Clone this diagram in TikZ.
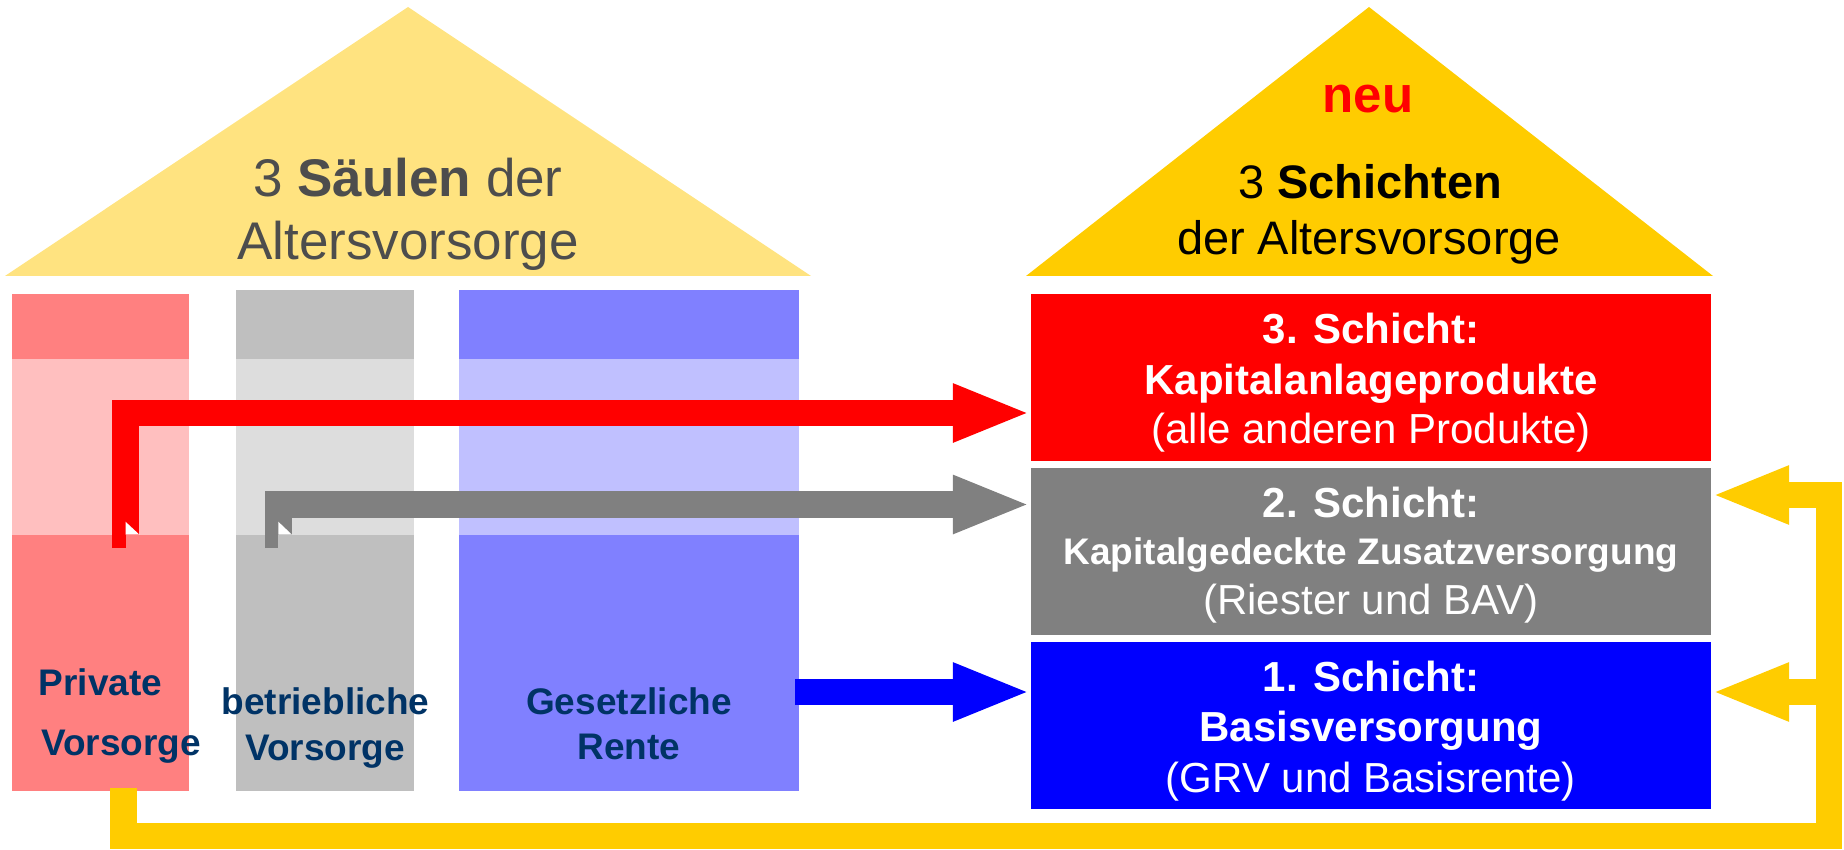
\documentclass[tikz,border=0pt]{standalone}
\usepackage{fontspec}
\setmainfont{Liberation Sans}
\usetikzlibrary{arrows.meta}
\definecolor{roofL}{HTML}{FFE380}
\definecolor{roofR}{HTML}{FFCC00}
\definecolor{titleL}{HTML}{4D4D4D}
\definecolor{redDark}{HTML}{FF8080}
\definecolor{redLight}{HTML}{FFBFBF}
\definecolor{grayDark}{HTML}{BFBFBF}
\definecolor{grayLight}{HTML}{DDDDDD}
\definecolor{blueDark}{HTML}{8080FF}
\definecolor{blueLight}{HTML}{C0C0FF}
\definecolor{navy}{HTML}{003366}
\definecolor{boxRed}{HTML}{FF0000}
\definecolor{boxGray}{HTML}{808080}
\definecolor{boxBlue}{HTML}{0000FF}
\definecolor{arrYellow}{HTML}{FFCC00}
\tikzset{
  txt/.style={inner sep=0pt, anchor=base},
  lbl/.style={txt, text=navy, font=\fontsize{37}{40}\selectfont\bfseries},
  boxtxt/.style={txt, text=white, font=\fontsize{42}{48}\selectfont},
  boxtxtb/.style={txt, text=white, font=\fontsize{42}{48}\selectfont\bfseries},
  layerbox/.style={draw=none, inner sep=0pt, minimum width=680pt, minimum height=167pt},
  fatarrow/.style={line width=26.5pt, line join=miter, line cap=butt,
    -{Triangle[length=78pt, width=53pt]}},
}
\begin{document}
\begin{tikzpicture}[x=1pt, y=-1pt]
\useasboundingbox (0,0) rectangle (1844,850);

% roofs
\fill[roofL] (5,276) -- (408,7) -- (811,276) -- cycle;
\fill[roofR] (1026,276) -- (1369,7) -- (1713,276) -- cycle;
\node[txt, text=titleL, font=\fontsize{53}{63}\selectfont] (tl1) at (408,197) {3 \textbf{Säulen} der};
\node[txt, text=titleL, font=\fontsize{53}{63}\selectfont] (tl2) at (408,260) {Altersvorsorge};
\node[txt, text=boxRed, font=\fontsize{51}{60}\selectfont\bfseries] (neu) at (1368,113) {neu};
\node[txt, font=\fontsize{47}{56}\selectfont] (tr1) at (1370,199) {3 \textbf{Schichten}};
\node[txt, font=\fontsize{47}{56}\selectfont] (tr2) at (1369,255) {der Altersvorsorge};

% pillars
\fill[redDark] (12,294) rectangle (189,791);
\fill[redLight] (12,359) rectangle (189,535);
\fill[grayDark] (236,290) rectangle (414,791);
\fill[grayLight] (236,359) rectangle (414,535);
\fill[blueDark] (459,290) rectangle (799,791);
\fill[blueLight] (459,359) rectangle (799,535);

\node[lbl] (p1) at (100.5,695) {Private};
\node[lbl] (p2) at (121,755) {Vorsorge};
\node[lbl] (b1) at (325.5,714) {betriebliche};
\node[lbl] (b2) at (325,760) {Vorsorge};
\node[lbl] (g1) at (629,714) {Gesetzliche};
\node[lbl] (g2) at (629,759) {Rente};

% layer boxes
\node[layerbox, fill=boxRed] (s3) at (1371,377.5) {};
\node[layerbox, fill=boxGray] (s2) at (1371,551.5) {};
\node[layerbox, fill=boxBlue] (s1) at (1371,725.5) {};

\node[boxtxtb] at (1371,343) {3. Schicht:};
\node[boxtxtb] at (1371,394) {Kapitalanlageprodukte};
\node[boxtxt] at (1371,443) {(alle anderen Produkte)};
\node[boxtxtb] at (1371,517) {2. Schicht:};
\node[boxtxtb, font=\fontsize{37}{42}\selectfont\bfseries] at (1371,564) {Kapitalgedeckte Zusatzversorgung};
\node[boxtxt] at (1371,614) {(Riester und BAV)};
\node[boxtxtb] at (1371,691) {1. Schicht:};
\node[boxtxtb] at (1371,741) {Basisversorgung};
\node[boxtxt] at (1371,792) {(GRV und Basisrente)};

% connector coordinates
\coordinate (rs) at (125.5,548);
\coordinate (rt) at (s3.west |- 0,413);
\coordinate (gs) at (278.3,548);
\coordinate (gt) at (s2.west |- 0,504.5);
\coordinate (bs) at (795,692);
\coordinate (bt) at (s1.west |- bs);
\coordinate (ys) at (123.3,788);
\coordinate (yc) at (1829,836);
\coordinate (yt2) at (s2.east |- 0,495);
\coordinate (yt1) at (s1.east |- 0,692);

% red arrow
\draw[fatarrow, boxRed] (rs) -- (rs |- rt) -- (rt);
\fill[redDark] (125.5,534.7) rectangle (139.5,549);
\fill[white] (125.5,521.7) -- (125.5,534.7) -- (139.5,534.7) -- cycle;
% gray arrow
\draw[fatarrow, boxGray] (gs) -- (gs |- gt) -- (gt);
\fill[grayDark] (278.3,534.7) rectangle (292,549);
\fill[white] (278.3,521.7) -- (278.3,534.7) -- (292,534.7) -- cycle;
% blue arrow
\draw[fatarrow, boxBlue] (bs) -- (bt);
% yellow feedback
\draw[fatarrow, arrYellow] (ys) -- (ys |- yc) -- (yc) -- (yc |- yt2) -- (yt2);
\draw[fatarrow, arrYellow] (yc |- yt1) -- (yt1);
\end{tikzpicture}
\end{document}
